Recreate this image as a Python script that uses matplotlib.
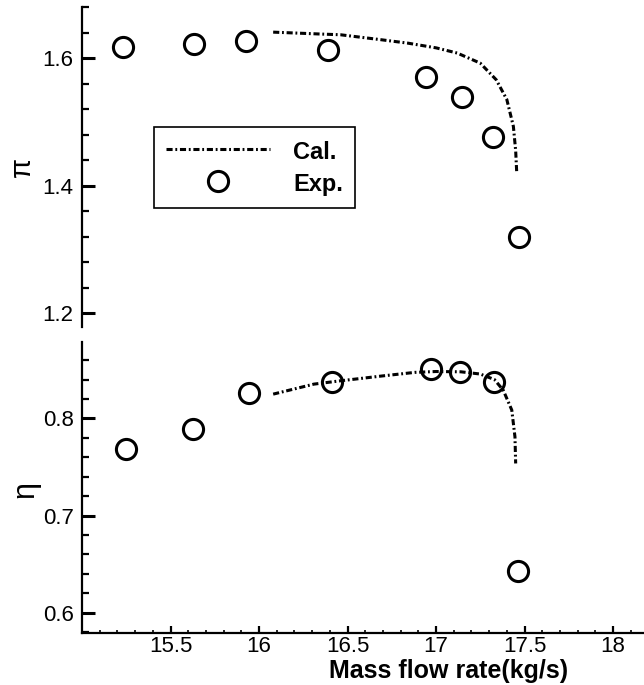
import matplotlib
matplotlib.use("Agg")
import matplotlib.pyplot as plt
from matplotlib.ticker import MultipleLocator, FormatStrFormatter

plt.rcParams['font.family'] = ['Liberation Sans', 'DejaVu Sans']

# Experimental data
exp_mass = [15.233, 15.634, 15.925, 16.39, 16.943, 17.147, 17.324, 17.469]
exp_pi = [1.618, 1.622, 1.627, 1.613, 1.570, 1.539, 1.477, 1.320]
exp_mass_eta = [15.251, 15.626, 15.943, 16.41, 16.969, 17.134, 17.326, 17.461]
exp_eta = [0.769, 0.789, 0.826, 0.838, 0.851, 0.848, 0.837, 0.643]

# Calculated curves
cal_mass_pi = [16.08, 16.35, 16.46, 16.69, 16.84, 17.0, 17.12, 17.25, 17.34, 17.40, 17.437, 17.450, 17.456]
cal_pi = [1.6406, 1.6376, 1.6365, 1.6287, 1.6234, 1.616, 1.6078, 1.592, 1.566, 1.535, 1.493, 1.455, 1.420]
cal_mass_eta = [16.08, 16.31, 16.45, 16.69, 16.88, 17.0, 17.14, 17.25, 17.33, 17.38, 17.428, 17.446, 17.45]
cal_eta = [0.825, 0.8353, 0.8385, 0.8436, 0.8474, 0.8483, 0.848, 0.8457, 0.840, 0.829, 0.8086, 0.781, 0.7536]

xticks = [15.5, 16, 16.5, 17, 17.5, 18]
xtick_labels = ['15.5', '16', '16.5', '17', '17.5', '18']

fig = plt.figure(figsize=(6.44, 6.85), dpi=100)
ax1 = fig.add_axes([82/644, 1-327/685, 562/644, 320/685])
ax2 = fig.add_axes([82/644, 1-633/685, 562/644, 291.3/685])

line_kw = dict(color='black', lw=2.2, linestyle=(0, (2.0, 0.9, 0.6, 0.9)))
mk_kw = dict(linestyle='none', marker='o', markersize=14.5, markerfacecolor='none',
             markeredgecolor='black', markeredgewidth=2.2)

ax1.plot(cal_mass_pi, cal_pi, label='Cal.', **line_kw)
ax1.plot(exp_mass, exp_pi, label='Exp.', **mk_kw)
ax2.plot(cal_mass_eta, cal_eta, **line_kw)
ax2.plot(exp_mass_eta, exp_eta, **mk_kw)

for ax in (ax1, ax2):
    ax.set_xlim(15.0, 18.175)
    for s in ('top', 'right'):
        ax.spines[s].set_visible(False)
    ax.spines['left'].set_linewidth(1.6)
    ax.spines['bottom'].set_linewidth(1.6)
    ax.tick_params(axis='y', which='major', direction='in', length=9, width=2.2,
                   labelsize=16, pad=6)
    ax.tick_params(axis='y', which='minor', direction='in', length=5, width=1.6)

ax1.spines['bottom'].set_visible(False)
ax1.set_ylim(1.1785, 1.680)
ax1.yaxis.set_major_locator(MultipleLocator(0.2))
ax1.yaxis.set_minor_locator(MultipleLocator(0.04))
ax1.yaxis.set_major_formatter(FormatStrFormatter('%.1f'))
ax1.set_xticks([])
ax1.tick_params(axis='x', which='both', bottom=False, labelbottom=False)

ax2.set_ylim(0.579, 0.879)
ax2.yaxis.set_major_locator(MultipleLocator(0.1))
ax2.yaxis.set_minor_locator(MultipleLocator(0.02))
ax2.yaxis.set_major_formatter(FormatStrFormatter('%.1f'))
ax2.set_xticks(xticks)
ax2.set_xticklabels(xtick_labels)
ax2.xaxis.set_minor_locator(MultipleLocator(0.1))
ax2.tick_params(axis='x', which='major', direction='in', length=5, width=1.6,
                labelsize=16, pad=2)
ax2.tick_params(axis='x', which='minor', direction='in', length=2.5, width=1.2)

leg = ax1.legend(loc='upper left', bbox_to_anchor=(0.128, 0.626), frameon=True,
                 fancybox=False, edgecolor='black', framealpha=1,
                 prop={'weight': 'bold', 'size': 17}, handlelength=4.4,
                 handleheight=1.2, handletextpad=1.0, borderpad=0.5,
                 labelspacing=0.3, borderaxespad=0.0)
leg.get_frame().set_linewidth(1.2)

fig.text(22/644, 1-167/685, 'π', rotation=90, ha='center', va='center', fontsize=21)
fig.text(25/644, 1-489/685, 'η', rotation=90, ha='center', va='center', fontsize=22)
fig.text(449/644, 1-659/685, 'Mass flow rate(kg/s)', ha='center', va='top',
         fontsize=18, fontweight='bold')

fig.savefig('out.png', dpi=100)
